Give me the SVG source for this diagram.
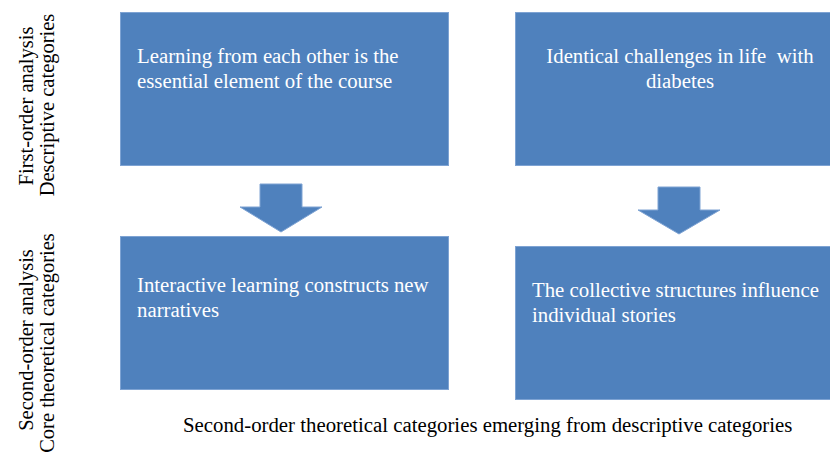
<svg xmlns="http://www.w3.org/2000/svg" width="830" height="454" viewBox="0 0 830 454">
  <style>
    .box { fill: #4f81bd; stroke: #7ea3d3; stroke-width: 1; }
    .arrow { fill: #4f81bd; stroke: #7ea3d3; stroke-width: 1; }
    .lbl { font-family: "Liberation Serif", "Times New Roman", serif; font-size: 20.8px; fill: #ffffff; }
    .side { font-family: "Liberation Serif", "Times New Roman", serif; font-size: 20.5px; fill: #000000; text-anchor: middle; }
    .caption { font-family: "Liberation Serif", "Times New Roman", serif; font-size: 20.8px; fill: #000000; }
  </style>
  <rect width="830" height="454" fill="#ffffff"/>

  <!-- row labels -->
  <g id="label-first-order">
    <text class="side" transform="translate(33,106) rotate(-90)">First-order analysis</text>
    <text class="side" transform="translate(54,105) rotate(-90)">Descriptive categories</text>
  </g>
  <g id="label-second-order">
    <text class="side" transform="translate(33,340) rotate(-90)">Second-order analysis</text>
    <text class="side" transform="translate(54,343) rotate(-90)">Core theoretical categories</text>
  </g>

  <!-- first-order boxes -->
  <g id="node-learning">
    <rect class="box" x="120.5" y="12.5" width="328" height="153"/>
    <text class="lbl" x="137" y="63">Learning from each other is the</text>
    <text class="lbl" x="137" y="88">essential element of the course</text>
  </g>
  <g id="node-identical">
    <rect class="box" x="515.5" y="12.5" width="320" height="153"/>
    <text class="lbl" x="680" y="63" text-anchor="middle" xml:space="preserve">Identical challenges in life  with</text>
    <text class="lbl" x="680" y="88" text-anchor="middle">diabetes</text>
  </g>

  <!-- second-order boxes -->
  <g id="node-interactive">
    <rect class="box" x="120.5" y="236.5" width="328" height="153"/>
    <text class="lbl" x="137" y="292">Interactive learning constructs new</text>
    <text class="lbl" x="137" y="317">narratives</text>
  </g>
  <g id="node-collective">
    <rect class="box" x="515.5" y="246.5" width="320" height="153"/>
    <text class="lbl" x="532" y="297">The collective structures influence</text>
    <text class="lbl" x="532" y="322">individual stories</text>
  </g>

  <!-- block arrows between rows -->
  <g id="connectors">
    <path class="arrow" d="M260,184 H302 V207 H322 L281,232 L240,207 H260 Z"/>
    <path class="arrow" d="M658,187 H700 V210 H720 L679,234 L638,210 H658 Z"/>
  </g>

  <g id="caption">
    <text class="caption" x="183" y="432">Second-order theoretical categories emerging from descriptive categories</text>
  </g>
</svg>
